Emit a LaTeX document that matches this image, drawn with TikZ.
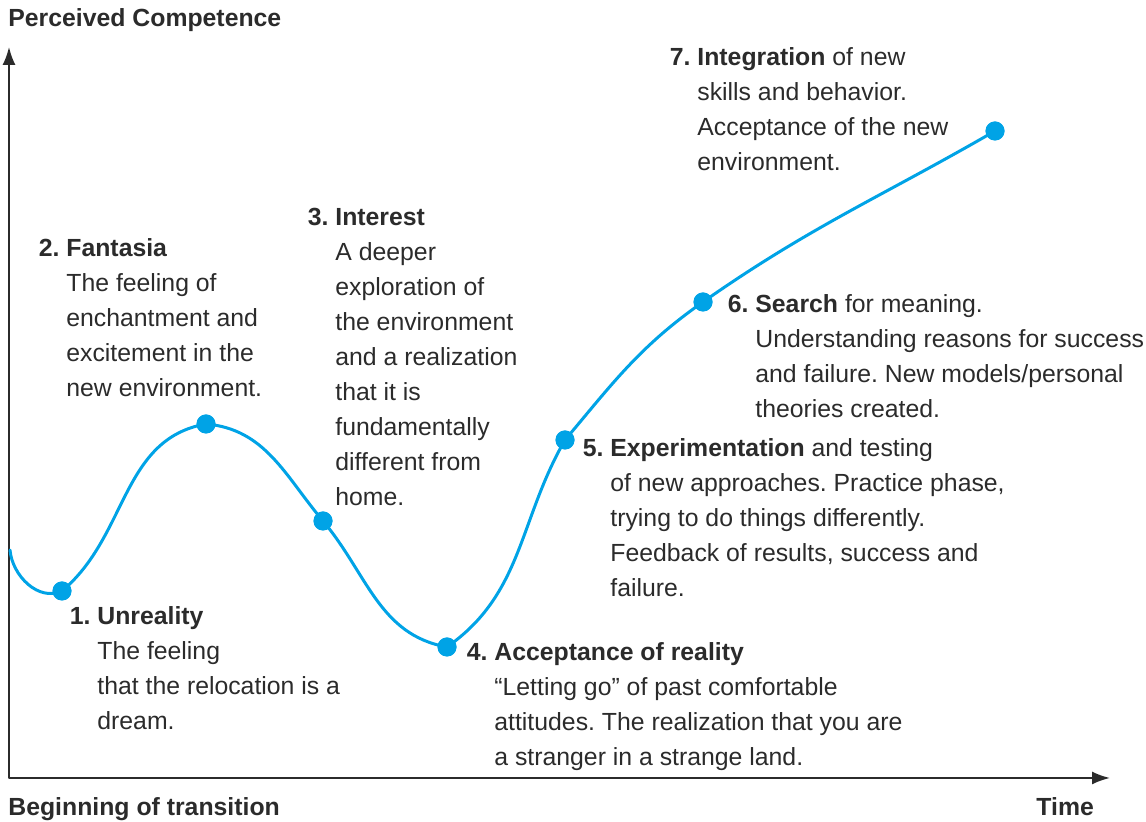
\documentclass[tikz,border=0pt]{standalone}
\usepackage{fontspec}
\setmainfont{Liberation Sans}
\usetikzlibrary{arrows.meta}
\definecolor{curveblue}{HTML}{00A3E6}
\definecolor{inkgray}{HTML}{2B2B2B}
\newcommand{\stagenum}[1]{\llap{\textbf{#1}\hspace{0.28em}}}
\frenchspacing
\tikzset{
  stage/.style={anchor=base west, inner sep=0pt, align=left, text=inkgray,
    font=\fontsize{12.4}{17.5}\selectfont},
  axislabel/.style={anchor=base west, inner sep=0pt, text=inkgray,
    font=\fontsize{12.4}{17.5}\selectfont\bfseries},
  dot/.style={circle, fill=curveblue, inner sep=0pt, minimum size=9.5pt},
  axis/.style={line width=1pt, draw=inkgray, {Latex[length=9pt,width=6.5pt]}-{Latex[length=9pt,width=6.5pt]}}
}
\begin{document}
\begin{tikzpicture}[x=0.5pt, y=0.5pt, line cap=round, line join=round]
  \useasboundingbox (0,0) rectangle (1146,822);
  % axes
  \coordinate (origin) at (9,44);
  \coordinate (ytip) at (9,775);
  \coordinate (xtip) at (1110,44);
  \draw[axis] (ytip) -- (origin) -- (xtip);
  \node[axislabel] (ylab) at (8,795) {Perceived Competence};
  \node[axislabel] (xlab) at (8,6) {Beginning of transition};
  \node[axislabel] (tlab) at (1036,6) {Time};
  % stages on the curve
  \coordinate (start) at (10,272);
  \node[dot] (p1) at (62,231) {};
  \node[dot] (p2) at (206,398) {};
  \node[dot] (p3) at (323,301) {};
  \node[dot] (p4) at (447,175) {};
  \node[dot] (p5) at (565,382) {};
  \node[dot] (p6) at (703,520) {};
  \node[dot] (p7) at (995,691) {};
  \draw[curveblue, line width=1.5pt]
    (start) to[out=-85, in=205] (p1.center)
    to[out=40, in=190] (p2.center)
    to[out=-5, in=130] (p3.center)
    to[out=-50, in=170] (p4.center)
    to[out=35, in=240] (p5.center)
    to[out=50, in=215] (p6.center)
    to[out=35, in=210] (p7.center);
  \foreach \i in {1,...,7} \fill[curveblue] (p\i) circle (4.75pt);
  % texts (anchored at the baseline of the last line)
  \node[stage] (s1) at (97,92) {\stagenum{1.}\textbf{Unreality}\\The feeling\\that the relocation is a\\dream.};
  \node[stage] (s2) at (66,425) {\stagenum{2.}\textbf{Fantasia}\\The feeling of\\enchantment and\\excitement in the\\new environment.};
  \node[stage] (s3) at (335,316) {\stagenum{3.}\textbf{Interest}\\A deeper\\exploration of\\the environment\\and a realization\\that it is\\fundamentally\\different from\\home.};
  \node[stage] (s4) at (494,56) {\stagenum{4.}\textbf{Acceptance of reality}\\``Letting go'' of past comfortable\\attitudes. The realization that you are\\a stranger in a strange land.};
  \node[stage] (s5) at (610,225) {\stagenum{5.}\textbf{Experimentation} and testing\\of new approaches. Practice phase,\\trying to do things differently.\\Feedback of results, success and\\failure.};
  \node[stage] (s6) at (755,404) {\stagenum{6.}\textbf{Search} for meaning.\\Understanding reasons for success\\and failure. New models/personal\\theories created.};
  \node[stage] (s7) at (697,651) {\stagenum{7.}\textbf{Integration} of new\\skills and behavior.\\Acceptance of the new\\environment.};
\end{tikzpicture}
\end{document}
